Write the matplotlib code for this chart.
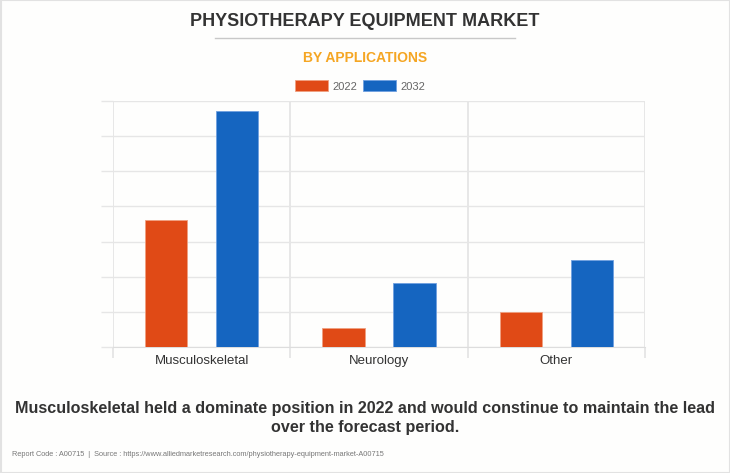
import numpy as np
import matplotlib as mpl
import matplotlib.pyplot as plt
from matplotlib.patches import Rectangle
from matplotlib.lines import Line2D
mpl.rcParams['font.family'] = ['Liberation Sans', 'DejaVu Sans']

# Data (y axis has no labels)
categories = ['Musculoskeletal', 'Neurology', 'Other']
years = ['2022', '2032']
values_2022 = [3.62, 0.54, 1.0]
values_2032 = [6.72, 1.82, 2.48]
colors = ['#E04A16', '#1565C0']

W, H = 730, 473
fig = plt.figure(figsize=(W / 100, H / 100), dpi=100, facecolor='#FEFEFD')

# outer frame
fig.add_artist(Rectangle((0.5 / W, 0.5 / H), 1 - 1 / W, 1 - 1 / H, transform=fig.transFigure,
                         fill=False, edgecolor='#E2E2E2', lw=1.5))

ax = fig.add_axes([113 / W, 1 - 347 / H, (645 - 113) / W, (347 - 101) / H])
ax.set_facecolor('none')
x = np.arange(len(categories))
w = 0.24
ax.bar(x - 0.2, values_2022, w, color=colors[0], label=years[0], zorder=3,
       edgecolor='#F0A080', linewidth=0.6)
ax.bar(x + 0.2, values_2032, w, color=colors[1], label=years[1], zorder=3,
       edgecolor='#6FA0E0', linewidth=0.6)

ax.set_xlim(-0.5, 2.5)
ax.set_ylim(0, 7)
ax.set_yticks(np.arange(0, 8))
ax.set_yticklabels([])
ax.set_xticks(x)
ax.set_xticklabels(categories, fontsize=9.5, color='#333333')
ax.set_xticks([-0.5, 0.5, 1.5, 2.5], minor=True)
ax.tick_params(axis='x', which='major', length=0, pad=6)
ax.tick_params(axis='x', which='minor', length=8, color='#E3E3E3', width=1.2)
ax.tick_params(axis='y', length=9, color='#E6E6E6', width=1)
ax.grid(True, axis='y', color='#E6E6E6', lw=1, zorder=0)
ax.grid(True, axis='x', which='minor', color='#E3E3E3', lw=1.2, zorder=0)
for s in ['top', 'right', 'left']:
    ax.spines[s].set_visible(False)
ax.spines['bottom'].set_color('#DDDDDD')

# titles
fig.text(0.5, 1 - 21 / H, 'PHYSIOTHERAPY EQUIPMENT MARKET', ha='center', va='center',
         fontsize=13, fontweight='bold', color='#333333')
fig.add_artist(Line2D([215 / W, 515 / W], [1 - 38 / H, 1 - 38 / H], color='#C8C8C8', lw=1))
fig.text(0.5, 1 - 58 / H, 'BY APPLICATIONS', ha='center', va='center',
         fontsize=10, fontweight='bold', color='#F5A623')

fig.legend(loc='center', bbox_to_anchor=(360 / W, 1 - 86 / H), ncol=2, frameon=False,
           fontsize=8, handlelength=3.0, handleheight=1.1, columnspacing=0.55,
           handletextpad=0.35, labelcolor='#666666')

fig.text(0.5, 1 - 418 / H,
         'Musculoskeletal held a dominate position in 2022 and would constinue to maintain the lead\nover the forecast period.',
         ha='center', va='center', fontsize=11.6, fontweight='bold', color='#333333',
         linespacing=1.3)
fig.text(12 / W, 1 - 454 / H,
         'Report Code : A00715  |  Source : https://www.alliedmarketresearch.com/physiotherapy-equipment-market-A00715',
         ha='left', va='center', fontsize=5.3, color='#777777')

fig.savefig('out.png', dpi=100, facecolor=fig.get_facecolor())
